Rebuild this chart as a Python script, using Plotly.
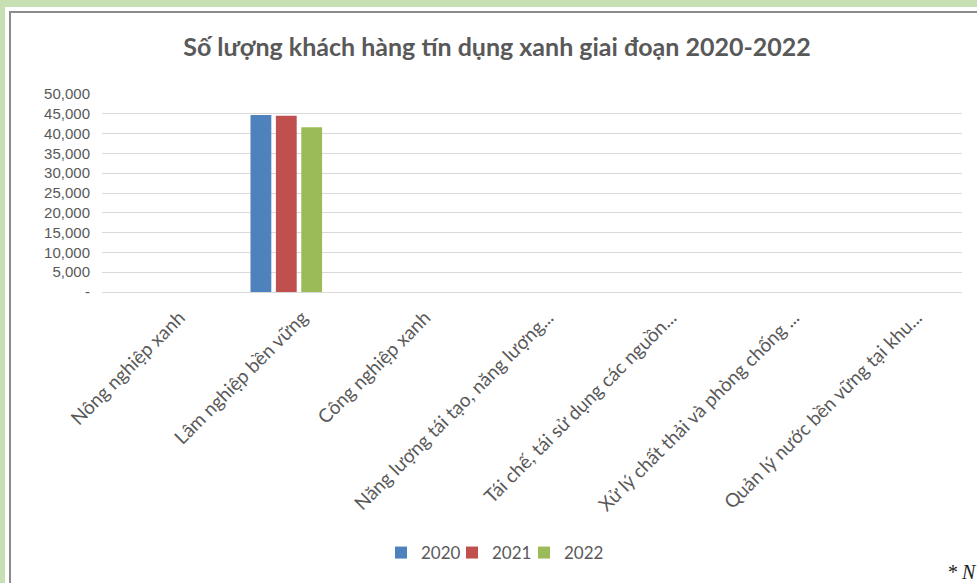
import plotly.graph_objects as go

categories = [
    "Nông nghiệp xanh",
    "Lâm nghiệp bền vững",
    "Công nghiệp xanh",
    "Năng lượng tái tạo, năng lượng...",
    "Tái chế, tái sử dụng các nguồn...",
    "Xử lý chất thải và phòng chống ...",
    "Quản lý nước bền vững tại khu...",
]
series_names = ["2020", "2021", "2022"]
values_2020 = [0, 44700, 0, 0, 0, 0, 0]
values_2021 = [0, 44500, 0, 0, 0, 0, 0]
values_2022 = [0, 41600, 0, 0, 0, 0, 0]
y_tick_values = [0, 5000, 10000, 15000, 20000, 25000, 30000, 35000, 40000, 45000, 50000]
y_tick_labels = ["-"] + [f"{v:,}" for v in y_tick_values[1:]]
title_text = "Số lượng khách hàng tín dụng xanh giai đoạn 2020-2022"

colors = ["#4f81bd", "#c0504d", "#9bbb59"]
legend_ids = ["legend", "legend2", "legend3"]
legend_square_px = [402, 473, 545]

W, H = 977, 583
ML, MR, MT, MB = 102, 15, 94, 291
PW = W - ML - MR
PH = H - MT - MB


def px_x(x):
    return (x - ML) / PW


def px_y(y):
    return (H - MB - y) / PH


fig = go.Figure()
for name, vals, col, lg in zip(series_names, [values_2020, values_2021, values_2022],
                               colors, legend_ids):
    fig.add_trace(go.Bar(name=name, x=categories, y=vals, marker_color=col,
                         marker_line_width=0, legend=lg))

legend_layout = {}
for lg, sx in zip(legend_ids, legend_square_px):
    legend_layout[lg] = dict(
        orientation="h", x=px_x(sx - 21), xanchor="left", y=px_y(553),
        yanchor="middle", font=dict(family="Lato", size=17, color="#595959"),
        itemwidth=30, bgcolor="rgba(0,0,0,0)")

fig.update_layout(
    width=W, height=H,
    margin=dict(l=ML, r=MR, t=MT, b=MB, autoexpand=False),
    paper_bgcolor="#c6e0b4",
    plot_bgcolor="rgba(0,0,0,0)",
    barmode="group",
    bargap=0.38,
    bargroupgap=0.18,
    title=dict(text="<b>" + title_text + "</b>", x=px_x(497), xref="paper",
               xanchor="center", y=1 - 47 / H, yanchor="middle",
               font=dict(family="Lato", size=25, color="#595959")),
    showlegend=True,
    shapes=[
        dict(type="rect", xref="paper", yref="paper", x0=px_x(5), x1=px_x(990),
             y0=px_y(600), y1=px_y(7), fillcolor="white", line_width=0, layer="below"),
        dict(type="rect", xref="paper", yref="paper", x0=px_x(10), x1=px_x(995),
             y0=px_y(610), y1=px_y(12), fillcolor="white",
             line=dict(color="#8c8c8c", width=2), layer="below"),
    ],
    annotations=[
        dict(text="<i>* N</i>", xref="paper", yref="paper", x=px_x(945), y=px_y(572),
             xanchor="left", yanchor="middle", showarrow=False,
             font=dict(family="Liberation Serif", size=20, color="#222222")),
    ],
    **legend_layout,
)

fig.update_yaxes(range=[0, 50000], tickvals=y_tick_values, ticktext=y_tick_labels,
                 showgrid=True, gridcolor="#d9d9d9", gridwidth=1,
                 zeroline=False, showline=False, ticks="", ticklabelstandoff=11,
                 tickfont=dict(family="Liberation Sans", size=15, color="#595959"))
fig.update_xaxes(tickangle=-45, showgrid=False, showline=True, linecolor="#d9d9d9",
                 linewidth=1, ticks="", ticklabelshift=16, ticklabelstandoff=6,
                 tickfont=dict(family="Lato", size=19, color="#595959"))

fig.write_html("out.html", config={"displayModeBar": False},
               post_script="document.body.style.margin='0';")
